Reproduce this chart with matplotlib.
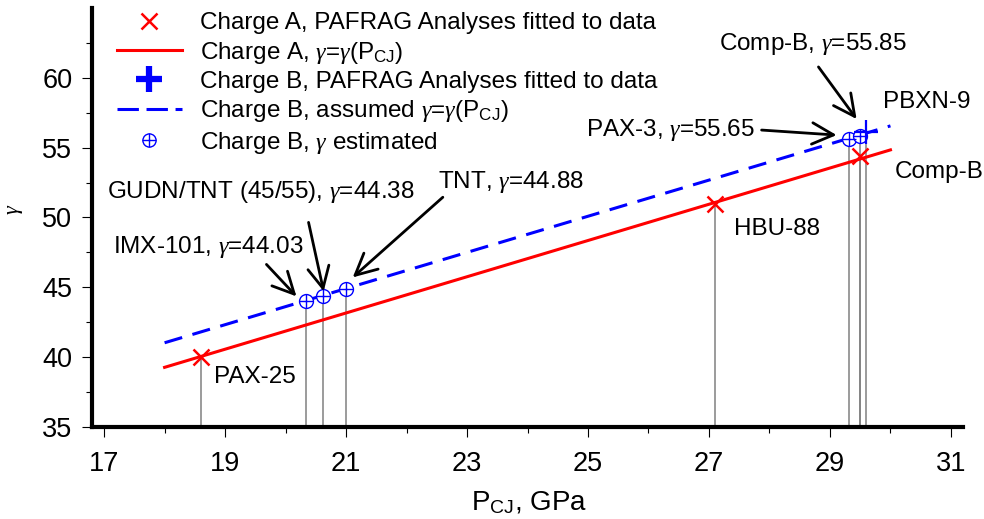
import matplotlib
matplotlib.use("Agg")
import matplotlib.pyplot as plt
from matplotlib.lines import Line2D
from matplotlib.legend_handler import HandlerTuple

plt.rcParams['font.family'] = ['Liberation Sans', 'DejaVu Sans']
plt.rcParams['mathtext.fontset'] = 'custom'
plt.rcParams['mathtext.rm'] = 'Liberation Sans'
plt.rcParams['mathtext.it'] = 'Liberation Serif:italic'
plt.rcParams['mathtext.bf'] = 'Liberation Sans:bold'

# ---------------- data ----------------
chargeA_names = ['PAX-25', 'HBU-88', 'Comp-B']
chargeA_p = [18.6, 27.1, 29.5]
chargeA_g = [40.0, 51.0, 54.4]

chargeB_fit_names = ['PBXN-9']
chargeB_fit_p = [29.6]
chargeB_fit_g = [56.1]

chargeB_est_names = ['IMX-101', 'GUDN/TNT (45/55)', 'TNT', 'PAX-3', 'Comp-B']
chargeB_est_p = [20.33, 20.62, 21.0, 29.32, 29.5]
chargeB_est_g = [44.03, 44.38, 44.88, 55.65, 55.85]

line_p = [18.0, 30.0]
lineA_g = [39.27, 54.84]
lineB_g = [41.03, 56.56]

x_ticks = [17, 19, 21, 23, 25, 27, 29, 31]
y_ticks = [35, 40, 45, 50, 55, 60]

# ---------------- figure ----------------
fig = plt.figure(figsize=(9.84, 5.19), dpi=100)
ax = fig.add_axes([0.0935, 0.1773, 0.8852, 0.8073])
ax.set_xlim(16.8, 31.2)
ax.set_ylim(35, 65)

ymin = 35
drop_p = chargeA_p + chargeB_est_p + chargeB_fit_p
drop_g = chargeA_g + chargeB_est_g + chargeB_fit_g
ax.vlines(drop_p, ymin, drop_g, colors='#808080', lw=1.1, zorder=1)

lA, = ax.plot(line_p, lineA_g, color='#ff0000', lw=2.2, zorder=2)
lB, = ax.plot(line_p, lineB_g, color='#0000ff', lw=2.2, dashes=(6, 3.5), zorder=2)

mA, = ax.plot(chargeA_p, chargeA_g, ls='none', marker='x', color='#ff0000',
              ms=12, mew=1.8, zorder=4)
ax.plot(chargeB_fit_p, chargeB_fit_g, ls='none', marker='+', color='#0000ff',
        ms=17, mew=1.6, zorder=5)
mc, = ax.plot(chargeB_est_p, chargeB_est_g, ls='none', marker='o', mfc='white',
              mec='#0000ff', ms=10, mew=1.0, zorder=3)
mp, = ax.plot(chargeB_est_p, chargeB_est_g, ls='none', marker='+', color='#0000ff',
              ms=10, mew=1.0, zorder=3)

# legend
proxy_plus = Line2D([], [], ls='none', marker='+', color='#0000ff', ms=19, mew=4.5)
proxy_dash = Line2D([], [], color='#0000ff', lw=2.2, dashes=(7, 2.5))
lc = Line2D([], [], ls='none', marker='o', mfc='white', mec='#0000ff', ms=9.5, mew=1.0)
lp = Line2D([], [], ls='none', marker='+', color='#0000ff', ms=9.5, mew=1.0)
handles = [mA, lA, proxy_plus, proxy_dash, (lc, lp)]
labels = ['Charge A, PAFRAG Analyses fitted to data',
          r'Charge A, $\gamma$=$\gamma$(P$_{\rm CJ}$)',
          'Charge B, PAFRAG Analyses fitted to data',
          r'Charge B, assumed $\gamma$=$\gamma$(P$_{\rm CJ}$)',
          r'Charge B, $\gamma$ estimated']
fig.legend(handles, labels, loc='upper left', bbox_to_anchor=(0.119, 0.9765),
           frameon=False, fontsize=17.5, borderpad=0, borderaxespad=0,
           handlelength=2.65, handletextpad=0.75, labelspacing=0.22, numpoints=1,
           handler_map={tuple: HandlerTuple(ndivide=1)})

# annotations
fs = 17.5
ax.text(27.17, 62.43, r'Comp-B, $\gamma$=55.85', fontsize=fs, va='center', ha='left')
ax.text(29.875, 58.26, 'PBXN-9', fontsize=fs, va='center', ha='left')
ax.text(24.97, 56.25, r'PAX-3, $\gamma$=55.65', fontsize=fs, va='center', ha='left')
ax.text(30.07, 53.24, 'Comp-B', fontsize=fs, va='center', ha='left')
ax.text(27.42, 49.16, 'HBU-88', fontsize=fs, va='center', ha='left')
ax.text(22.52, 52.53, r'TNT, $\gamma$=44.88', fontsize=fs, va='center', ha='left')
ax.text(17.05, 51.81, r'GUDN/TNT (45/55), $\gamma$=44.38', fontsize=fs, va='center', ha='left')
ax.text(17.15, 47.86, r'IMX-101, $\gamma$=44.03', fontsize=fs, va='center', ha='left')
ax.text(18.81, 38.61, 'PAX-25', fontsize=fs, va='center', ha='left')

arrow_kw = dict(arrowstyle='->,head_length=0.7,head_width=0.35', lw=2.0, color='black',
                mutation_scale=22, shrinkA=0, shrinkB=0)
arrows = [((19.684, 46.64), (20.18, 44.35)),
          ((20.38, 49.65), (20.63, 44.71)),
          ((22.60, 51.45), (21.11, 45.71)),
          ((28.81, 60.78), (29.44, 57.05)),
          ((27.87, 56.26), (29.11, 55.90))]
for tail, head in arrows:
    ax.annotate('', xy=head, xytext=tail, arrowprops=arrow_kw)

# axes styling
for s in ['top', 'right']:
    ax.spines[s].set_visible(False)
for s in ['left', 'bottom']:
    ax.spines[s].set_linewidth(3.0)
ax.set_xticks(x_ticks)
ax.set_yticks(y_ticks)
ax.set_xticks([18, 20, 22, 24, 26, 28, 30], minor=True)
ax.set_yticks([37.5, 42.5, 47.5, 52.5, 57.5, 62.5], minor=True)
ax.tick_params(which='major', direction='out', length=7.2, width=0.8, labelsize=19.5)
ax.tick_params(which='minor', direction='out', length=4, width=0.8)
ax.tick_params(axis='x', which='major', pad=10)
ax.tick_params(axis='y', which='major', pad=7)

ax.set_xlabel(r'P$_{\rm CJ}$, GPa', fontsize=20)
ax.xaxis.set_label_coords(0.502, -0.148)
ax.set_ylabel(r'$\gamma$', fontsize=16, va='center')
ax.yaxis.set_label_coords(-0.0895, 0.52)

fig.savefig('out.png', dpi=100)
